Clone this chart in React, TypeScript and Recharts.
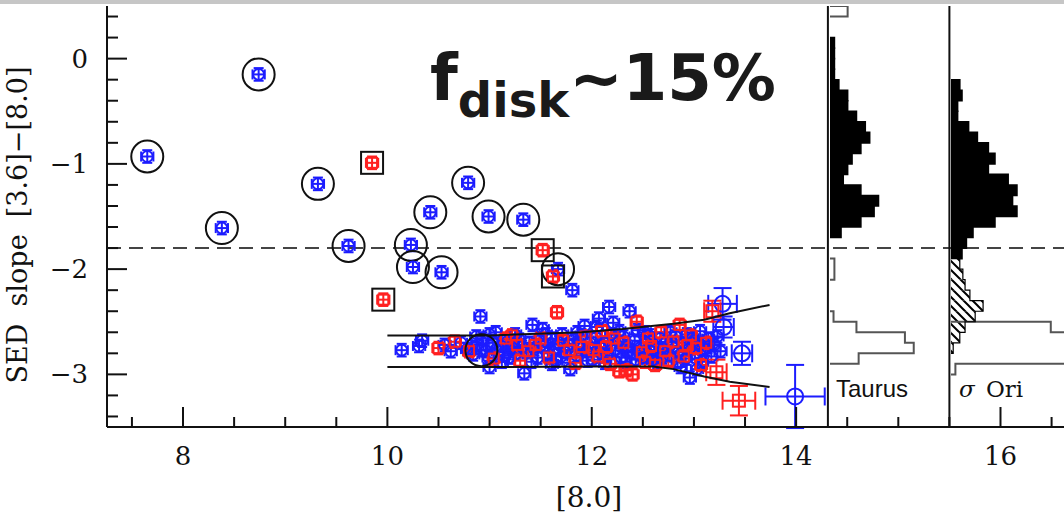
import React from 'react';
import { ComposedChart, Scatter, Line, XAxis, YAxis, ReferenceLine, ReferenceArea, ErrorBar } from 'recharts';

const W = 1064;
const H = 517;
const BLUE = '#1c1cff';
const RED = '#ff2020';
const INK = '#111';
const SERIF = '"DejaVu Serif", serif';

// axis ranges and ticks ([8.0] mag on x, SED slope on y)
const X_RANGE: [number, number] = [7.256, 16.69];
const Y_RANGE: [number, number] = [-3.5, 0.5];
const xTicks = [7.5, 8, 8.5, 9, 9.5, 10, 10.5, 11, 11.5, 12, 12.5, 13, 13.5, 14, 14.5, 15, 15.5, 16, 16.5];
const yTicks = [-3.4, -3.2, -3, -2.8, -2.6, -2.4, -2.2, -2, -1.8, -1.6, -1.4, -1.2, -1, -0.8, -0.6, -0.4, -0.2, 0, 0.2, 0.4];
const panelEdges = [14.311, 15.5];
const slopeCut = -1.8;
const smallErr = 0.06;

// sources with disks, circled
const circledBlue: [number, number][] = [
  [7.65, -0.93], [8.74, -0.15], [8.38, -1.61], [9.32, -1.19], [9.62, -1.78], [10.23, -1.77],
  [10.25, -1.98], [10.53, -2.03], [10.42, -1.46], [10.79, -1.18], [10.99, -1.5], [11.33, -1.53],
  [11.67, -2.0], [10.92, -2.77],
];
const boxedRed: [number, number][] = [[9.85, -0.99], [9.96, -2.29], [11.52, -1.82], [11.62, -2.07]];

// photospheric band
const blueBand: [number, number][] = [
  [11.81, -2.2],
  [10.14, -2.77], [10.31, -2.73], [10.34, -2.68], [10.56, -2.72], [10.62, -2.78], [10.72, -2.7], [10.78, -2.76],
  [10.84, -2.81], [10.87, -2.64], [10.88, -2.72], [10.91, -2.45], [10.93, -2.66], [10.96, -2.77], [10.99, -2.84],
  [11.0, -2.93], [11.0, -2.62], [11.03, -2.7], [11.06, -2.6], [11.08, -2.78], [11.11, -2.73], [11.12, -2.88],
  [11.14, -2.82], [11.17, -2.69], [11.19, -2.84], [11.2, -2.76], [11.23, -2.71], [11.25, -2.62], [11.26, -2.8],
  [11.29, -2.67], [11.32, -2.74], [11.34, -2.99], [11.36, -2.79], [11.39, -2.7], [11.41, -2.88], [11.42, -2.53],
  [11.44, -2.76], [11.47, -2.84], [11.49, -2.68], [11.52, -2.57],
  [11.54, -2.73], [11.55, -2.62], [11.57, -2.8], [11.6, -2.66], [11.61, -2.9], [11.63, -2.76], [11.65, -2.87],
  [11.68, -2.7], [11.7, -2.83], [11.71, -2.62], [11.74, -2.79], [11.77, -2.72], [11.79, -2.95], [11.82, -2.67],
  [11.85, -2.82], [11.86, -2.6], [11.87, -2.74], [11.9, -2.63], [11.93, -2.54], [11.95, -2.78], [11.96, -2.87],
  [11.98, -2.7],
  [12.01, -2.86], [12.04, -2.65], [12.05, -2.55], [12.07, -2.47], [12.09, -2.75], [12.12, -2.7], [12.13, -2.89],
  [12.15, -2.82], [12.17, -2.36], [12.19, -2.62], [12.21, -2.51], [12.23, -2.77], [12.26, -2.69], [12.27, -2.59],
  [12.29, -2.84], [12.31, -2.64], [12.33, -2.88], [12.34, -2.73], [12.36, -2.78], [12.37, -2.4], [12.39, -2.79],
  [12.42, -2.68], [12.43, -2.86], [12.45, -2.58], [12.47, -2.75],
  [12.5, -2.84], [12.52, -2.6], [12.53, -2.7], [12.56, -2.63], [12.58, -2.78], [12.6, -2.86], [12.61, -2.72],
  [12.64, -2.88], [12.67, -2.66], [12.69, -2.84], [12.7, -2.76], [12.73, -2.69], [12.76, -2.82], [12.77, -2.6],
  [12.79, -2.74], [12.82, -2.64], [12.84, -2.88], [12.85, -2.79], [12.87, -2.93], [12.89, -2.7], [12.92, -2.85],
  [12.93, -2.62], [12.95, -2.76], [12.96, -3.03], [12.98, -2.66],
  [13.0, -2.68], [13.01, -2.8], [13.03, -2.95], [13.04, -2.72], [13.06, -2.59], [13.08, -2.88], [13.11, -2.76],
  [13.13, -2.74], [13.14, -2.66], [13.17, -2.83], [13.2, -2.72], [13.23, -2.64], [13.26, -2.78],
];
const redBand: [number, number][] = [
  [10.5, -2.75], [10.66, -2.69], [10.8, -2.78], [11.04, -2.85], [11.16, -2.66], [11.22, -2.63], [11.27, -2.72],
  [11.3, -2.87], [11.38, -2.78], [11.45, -2.72], [11.5, -2.66], [11.58, -2.84], [11.66, -2.41], [11.72, -2.68],
  [11.78, -2.77], [11.84, -2.89], [11.9, -2.74], [11.94, -2.64], [12.02, -2.77], [12.06, -2.83], [12.1, -2.59],
  [12.14, -2.74], [12.18, -2.9], [12.22, -2.66], [12.27, -2.97], [12.31, -2.7], [12.34, -2.96], [12.4, -3.0],
  [12.44, -2.5], [12.49, -2.79], [12.52, -2.88], [12.55, -2.66], [12.58, -2.73], [12.62, -2.91], [12.68, -2.6],
  [12.72, -2.78], [12.75, -2.87], [12.8, -2.69], [12.86, -2.53], [12.9, -2.83], [12.94, -2.72], [12.97, -2.63],
  [13.02, -2.75], [13.07, -2.91], [13.12, -2.7],
];
// faint sources with large errors: [x, y, xErr, yErr]
const blueFaint: [number, number, number, number][] = [
  [13.99, -3.21, 0.29, 0.3], [13.28, -2.33, 0.14, 0.15], [13.47, -2.8, 0.1, 0.11], [13.29, -2.55, 0.1, 0.1],
];
const redFaint: [number, number, number, number][] = [
  [13.44, -3.25, 0.16, 0.14], [13.22, -2.98, 0.1, 0.12], [13.18, -2.4, 0.08, 0.1],
];

// envelope of the photospheric locus
const upperEnvelope: [number, number][] = [
  [10.0, -2.63], [11.0, -2.63], [11.9, -2.6], [12.3, -2.57], [12.8, -2.52], [13.1, -2.48], [13.35, -2.42], [13.74, -2.34],
];
const lowerEnvelope: [number, number][] = [
  [10.0, -2.93], [11.0, -2.93], [12.0, -2.925], [12.6, -2.925], [12.8, -2.95], [13.1, -3.02], [13.35, -3.07], [13.74, -3.12],
];

// histograms of SED slope, bin upper edges and counts (bin width 0.1)
const BIN = 0.1;
const taurusDiskEdge = [0.2, 0.1, 0, -0.1, -0.2, -0.3, -0.4, -0.5, -0.6, -0.7, -0.8, -0.9, -1.0, -1.1, -1.2, -1.3, -1.4, -1.5, -1.6];
const taurusDiskN = [1, 1, 1, 1, 2, 4, 4, 6, 8, 9, 7, 5, 4, 3, 7, 11, 10, 7, 2.5];
const taurusRestEdge = [0.5, -1.9, -2.0, -2.4, -2.5, -2.6, -2.7, -2.8];
const taurusRestN = [4, 1, 1, 0.8, 6, 17, 19, 6.5];
const oriDiskEdge = [-0.2, -0.3, -0.4, -0.5, -0.6, -0.7, -0.8, -0.9, -1.0, -1.1, -1.2, -1.3, -1.4, -1.5, -1.6, -1.7, -1.8];
const oriDiskN = [2, 2.5, 1.5, 1.5, 4, 6, 8.5, 10, 8.5, 13, 15, 14, 15, 10, 5, 3.5, 2.5];
const oriWeakEdge = [-1.9, -2.0, -2.1, -2.2, -2.3, -2.4, -2.5, -2.6, -2.7];
const oriWeakN = [2, 2.7, 3.2, 4.3, 7.3, 5.5, 3.2, 2, 0.5];
const oriRestEdge = [-2.5, -2.6, -2.7, -2.8, -2.9];
const oriRestN = [22.7, 28, 28, 28, 1];

type Pt = { x: number; y: number; ex: number; ey: number };
const pts = (a: [number, number][]): Pt[] => a.map(([x, y]) => ({ x, y, ex: smallErr, ey: smallErr }));
const faint = (a: [number, number, number, number][]): Pt[] => a.map(([x, y, ex, ey]) => ({ x, y, ex, ey }));
const line = (a: [number, number][]) => a.map(([x, y]) => ({ x, y }));
const zip = (e: number[], n: number[]): [number, number][] => e.map((v, i) => [v, n[i]]);

const stepOutline = (bins: [number, number][]) => {
  const out: { w: number; y: number | null }[] = [];
  bins.forEach(([top, n], i) => {
    const prev = bins[i - 1];
    const joined = prev && Math.abs(prev[0] - BIN - top) < 1e-6;
    if (!joined) {
      if (prev) out.push({ w: 0, y: prev[0] - BIN }, { w: 0, y: null });
      out.push({ w: 0, y: top });
    }
    out.push({ w: n, y: top }, { w: n, y: top - BIN });
  });
  const last = bins[bins.length - 1];
  out.push({ w: 0, y: last[0] - BIN });
  return out;
};

const minus = (v: number) => (v < 0 ? '\u2212' + Math.abs(v) : String(v));
const isEven = (v: number) => Math.abs(v / 2 - Math.round(v / 2)) < 1e-6;
const isInt = (v: number) => Math.abs(v - Math.round(v)) < 1e-6;

const BottomTick = ({ x, y, payload }: any) => {
  const major = isEven(payload.value);
  return (
    <g>
      <line x1={x} y1={y} x2={x} y2={y - (major ? 20 : 10)} stroke={INK} strokeWidth={2} />
      {major && (
        <text x={x} y={y + 38} textAnchor="middle" fontFamily={SERIF} fontSize={26} fill={INK}>
          {payload.value}
        </text>
      )}
    </g>
  );
};
const TopTick = ({ x, y, payload }: any) => (
  <line x1={x} y1={y} x2={x} y2={y + (isEven(payload.value) ? 20 : 10)} stroke={INK} strokeWidth={2} />
);
const LeftTick = ({ x, y, payload }: any) => {
  const major = isInt(payload.value);
  return (
    <g>
      <line x1={x} y1={y} x2={x + (major ? 20 : 11)} y2={y} stroke={INK} strokeWidth={2} />
      {major && (
        <text x={x - 19} y={y + 9} textAnchor="end" fontFamily={SERIF} fontSize={26} fill={INK}>
          {minus(Math.round(payload.value))}
        </text>
      )}
    </g>
  );
};
const RightTick = ({ x, y, payload }: any) => (
  <line x1={x} y1={y} x2={x - (isInt(payload.value) ? 20 : 12)} y2={y} stroke={INK} strokeWidth={2} />
);

const BlueMark = ({ cx, cy }: any) => <circle cx={cx} cy={cy} r={5.5} fill="none" stroke={BLUE} strokeWidth={2} />;
const RedMark = ({ cx, cy }: any) => (
  <rect x={cx - 5} y={cy - 5} width={10} height={10} fill="none" stroke={RED} strokeWidth={2} />
);
const CircledMark = (p: any) => (
  <g>
    <BlueMark {...p} />
    <circle cx={p.cx} cy={p.cy} r={16} fill="none" stroke={INK} strokeWidth={2} />
  </g>
);
const BoxedMark = (p: any) => (
  <g>
    <RedMark {...p} />
    <rect x={p.cx - 11} y={p.cy - 11} width={22} height={22} fill="none" stroke={INK} strokeWidth={2} />
  </g>
);
const FaintBlue = ({ cx, cy }: any) => <circle cx={cx} cy={cy} r={8} fill="none" stroke={BLUE} strokeWidth={2} />;
const FaintRed = ({ cx, cy }: any) => (
  <rect x={cx - 6} y={cy - 6} width={12} height={12} fill="none" stroke={RED} strokeWidth={2} />
);

const errBars = (color: string, cap: number) => [
  <ErrorBar key="x" dataKey="ex" direction="x" stroke={color} strokeWidth={2} width={cap} />,
  <ErrorBar key="y" dataKey="ey" direction="y" stroke={color} strokeWidth={2} width={cap} />,
];

const HistPanel = ({ left, width, maxN, id, solid, hatched, open }: any) => (
  <div style={{ position: 'absolute', left, top: 0 }}>
    <ComposedChart width={width} height={H} margin={{ top: 6, right: 0, bottom: 90, left: 0 }}>
      <defs>
        <pattern id={id} width={9} height={9} patternUnits="userSpaceOnUse">
          <rect width={9} height={9} fill="#fff" />
          <path d="M-2,-2 L11,11 M-2,7 L2,11 M7,-2 L11,2" stroke="#000" strokeWidth={2} />
        </pattern>
      </defs>
      <XAxis type="number" dataKey="w" domain={[0, maxN]} hide allowDataOverflow />
      <YAxis type="number" dataKey="y" domain={Y_RANGE} hide allowDataOverflow />
      {open && (
        <Line data={stepOutline(open)} dataKey="y" stroke="#555" strokeWidth={2} dot={false} isAnimationActive={false} />
      )}
      {solid.map(([top, n]: [number, number]) => (
        <ReferenceArea key={'s' + top} x1={0} x2={n} y1={top - BIN} y2={top} fill="#000" fillOpacity={1} stroke="#000" strokeWidth={1.6} />
      ))}
      {hatched &&
        hatched.map(([top, n]: [number, number]) => (
          <ReferenceArea key={'h' + top} x1={0} x2={n} y1={top - BIN} y2={top} fill={`url(#${id})`} fillOpacity={1} />
        ))}
      {hatched && (
        <Line data={stepOutline(hatched)} dataKey="y" stroke="#000" strokeWidth={1.2} dot={false} isAnimationActive={false} />
      )}
    </ComposedChart>
  </div>
);

export default function App() {
  return (
    <div style={{ position: 'fixed', left: 0, top: 0, width: W, height: H, background: '#fff', overflow: 'hidden' }}>
      <div style={{ position: 'absolute', left: 0, top: 0, width: W, height: 4, background: '#c6c6c6' }} />
      <div style={{ position: 'absolute', left: 0, top: 0 }}>
        <ComposedChart width={1075} height={H} margin={{ top: 6, right: 4, bottom: 0, left: 0 }}>
          <XAxis type="number" dataKey="x" domain={X_RANGE} ticks={xTicks} interval={0} allowDataOverflow height={90}
            axisLine={{ stroke: INK, strokeWidth: 2 }} tickLine={false} tickSize={0} tickMargin={0}
            tick={(p: any) => <BottomTick {...p} />} />
          <XAxis xAxisId="top" orientation="top" type="number" domain={X_RANGE} ticks={xTicks} interval={0} allowDataOverflow height={0}
            axisLine={{ stroke: INK, strokeWidth: 2 }} tickLine={false} tickSize={0} tickMargin={0}
            tick={(p: any) => <TopTick {...p} />} />
          <YAxis type="number" dataKey="y" domain={Y_RANGE} ticks={yTicks} interval={0} allowDataOverflow width={107}
            axisLine={{ stroke: INK, strokeWidth: 2 }} tickLine={false} tickSize={0} tickMargin={0}
            tick={(p: any) => <LeftTick {...p} />} />
          <YAxis yAxisId="right" orientation="right" type="number" domain={Y_RANGE} ticks={yTicks} interval={0} allowDataOverflow width={0}
            axisLine={{ stroke: INK, strokeWidth: 2 }} tickLine={false} tickSize={0} tickMargin={0}
            tick={(p: any) => <RightTick {...p} />} />
          <ReferenceLine y={slopeCut} stroke="#444" strokeWidth={2} strokeDasharray="14 8" />
          {panelEdges.map((e) => (
            <ReferenceLine key={e} x={e} stroke={INK} strokeWidth={2} />
          ))}
          <Scatter data={pts(blueBand)} shape={(p: any) => <BlueMark {...p} />} isAnimationActive={false}>
            {errBars(BLUE, 5)}
          </Scatter>
          <Scatter data={pts(redBand)} shape={(p: any) => <RedMark {...p} />} isAnimationActive={false}>
            {errBars(RED, 5)}
          </Scatter>
          <Scatter data={faint(blueFaint)} shape={(p: any) => <FaintBlue {...p} />} isAnimationActive={false}>
            {errBars(BLUE, 9)}
          </Scatter>
          <Scatter data={faint(redFaint)} shape={(p: any) => <FaintRed {...p} />} isAnimationActive={false}>
            {errBars(RED, 9)}
          </Scatter>
          <Scatter data={line(upperEnvelope)} line={{ stroke: INK, strokeWidth: 2 }} shape={() => <g />} isAnimationActive={false} />
          <Scatter data={line(lowerEnvelope)} line={{ stroke: INK, strokeWidth: 2 }} shape={() => <g />} isAnimationActive={false} />
          <Scatter data={pts(circledBlue)} shape={(p: any) => <CircledMark {...p} />} isAnimationActive={false}>
            {errBars(BLUE, 5)}
          </Scatter>
          <Scatter data={pts(boxedRed)} shape={(p: any) => <BoxedMark {...p} />} isAnimationActive={false}>
            {errBars(RED, 5)}
          </Scatter>
        </ComposedChart>
      </div>
      <HistPanel left={830} width={119} maxN={27} id="hatchTau" solid={zip(taurusDiskEdge, taurusDiskN)} open={zip(taurusRestEdge, taurusRestN)} />
      <HistPanel left={951} width={120} maxN={27.3} id="hatchOri" solid={zip(oriDiskEdge, oriDiskN)}
        hatched={zip(oriWeakEdge, oriWeakN)} open={zip(oriRestEdge, oriRestN)} />
      <svg width={W} height={H} style={{ position: 'absolute', left: 0, top: 0, pointerEvents: 'none' }}>
        <text x={430} y={100} fontFamily='"DejaVu Sans", sans-serif' fontWeight="bold" fontSize={64} fill="#1a1a1a">
          f<tspan fontSize={48} dy={17}>disk</tspan>
          <tspan dy={-17}>~15%</tspan>
        </text>
        <text transform="translate(27,225) rotate(-90)" textAnchor="middle" fontFamily={SERIF} fontSize={27} fill={INK}>
          {'SED\u00a0\u00a0slope\u00a0\u00a0[3.6]\u2212[8.0]'}
        </text>
        <text x={589} y={507} textAnchor="middle" fontFamily={SERIF} fontSize={28} fill={INK}>
          [8.0]
        </text>
        <text x={836} y={397} fontFamily='"Liberation Sans", sans-serif' fontSize={24} fill={INK}>
          Taurus
        </text>
        <text x={959} y={397} fontFamily={SERIF} fontSize={23} fill={INK}>
          <tspan fontStyle="italic">σ</tspan>
          <tspan x={986}>Ori</tspan>
        </text>
      </svg>
    </div>
  );
}
